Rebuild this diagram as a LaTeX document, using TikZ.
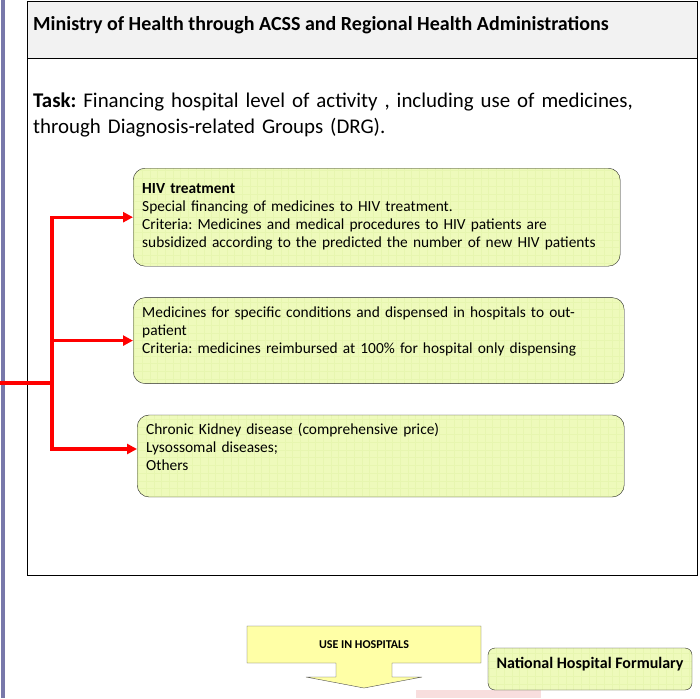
\documentclass[tikz,border=0pt]{standalone}
\usepackage{fontspec}
\setmainfont{Carlito}
\usepackage{tikz}
\usetikzlibrary{positioning, arrows.meta}

\definecolor{limefill}{RGB}{238,250,187}
\definecolor{limegrid}{RGB}{231,246,176}
\definecolor{headgray}{RGB}{242,242,242}
\definecolor{sidebar}{RGB}{120,120,170}
\definecolor{blockyellow}{RGB}{255,255,166}
\definecolor{pinkfill}{RGB}{248,222,222}
\frenchspacing

\tikzset{
    gridfill/.style={fill=limefill, path picture={
        \draw[limegrid, line width=0.6pt] (path picture bounding box.south west)
            grid[step=7.7pt] (path picture bounding box.north east);}}
}

\begin{document}
\begin{tikzpicture}[x=1pt, y=-1pt, node distance=31pt,
    greenbox/.style={draw=black!85, gridfill, rounded corners=12pt,
        align=left, inner xsep=9pt, font=\fontsize{15.4}{18}\selectfont},
    redline/.style={draw=red, line width=3.2pt},
    redarrow/.style={redline, -{Triangle[length=10pt,width=10pt]}}]
        \useasboundingbox (0,0) rectangle (700,698);

        % frame
        \fill[sidebar] (1,0) rectangle (5,698);
        \draw[black, fill=white] (27,1) rectangle (697,575);
        \draw[black, fill=headgray] (27,1) rectangle (697,58);

        \node (title) [anchor=base west, inner sep=0pt,
            font=\bfseries\fontsize{20}{24}\selectfont] at (33,31)
            {Ministry of Health through ACSS and Regional Health Administrations};
        \node (task) [anchor=base west, align=left, inner sep=0pt, text width=660pt,
            font=\fontsize{20.9}{26}\selectfont] at (33,107)
            {\textbf{Task:} Financing hospital level of activity , including use of medicines,\\
             through Diagnosis-related Groups (DRG).};

        % the three groups
        \node (hiv) [greenbox, anchor=north west, text width=469pt,
            minimum width=487pt, minimum height=98pt] at (133,168)
            {\textbf{HIV treatment}\\
             Special financing of medicines to HIV treatment.\\
             Criteria: Medicines and medical procedures to HIV patients are\\
             subsidized according to the predicted the number of new HIV patients};
        \node (outp) [greenbox, below=of hiv.south west, anchor=north west,
            text width=473pt, minimum width=491pt, minimum height=86pt,
            text depth=57pt]
            {Medicines for specific conditions and dispensed in hospitals to out-\\
             patient\\
             Criteria: medicines reimbursed at 100\% for hospital only dispensing};
        \node (ckd) [greenbox, below=of outp.south west, anchor=north west,
            xshift=4pt, text width=469pt, minimum width=487pt, minimum height=82pt,
            text depth=54pt]
            {Chronic Kidney disease (comprehensive price)\\
             Lysossomal diseases;\\
             Others};

        \coordinate (feed) at (0,383);
        \coordinate (bus)  at (52,383);
        \draw[redline] (feed) -- (bus);
        \draw[redarrow] (bus) |- (hiv.west);
        \draw[redarrow] (bus) |- (outp.west);
        \draw[redarrow] (bus) |- ([yshift=7pt]ckd.west);

        % bottom
        \draw[black!70, fill=blockyellow] (247,626) -- (481,626) -- (481,663)
            -- (392,663) -- (392,677) -- (422,677) -- (364,688) -- (306,677)
            -- (336,677) -- (336,663) -- (247,663) -- cycle;
        \node (use) [font=\bfseries\fontsize{12}{14}\selectfont] at (364,645) {USE IN HOSPITALS};
        \fill[pinkfill] (416,690) rectangle (541,698);
        \node (nhf) [draw=black!85, gridfill, rounded corners=7pt,
            minimum width=204pt, minimum height=42pt, text depth=12pt,
            font=\bfseries\fontsize{16}{18}\selectfont] at (590,669)
            {National Hospital Formulary};
    \end{tikzpicture}
\end{document}
